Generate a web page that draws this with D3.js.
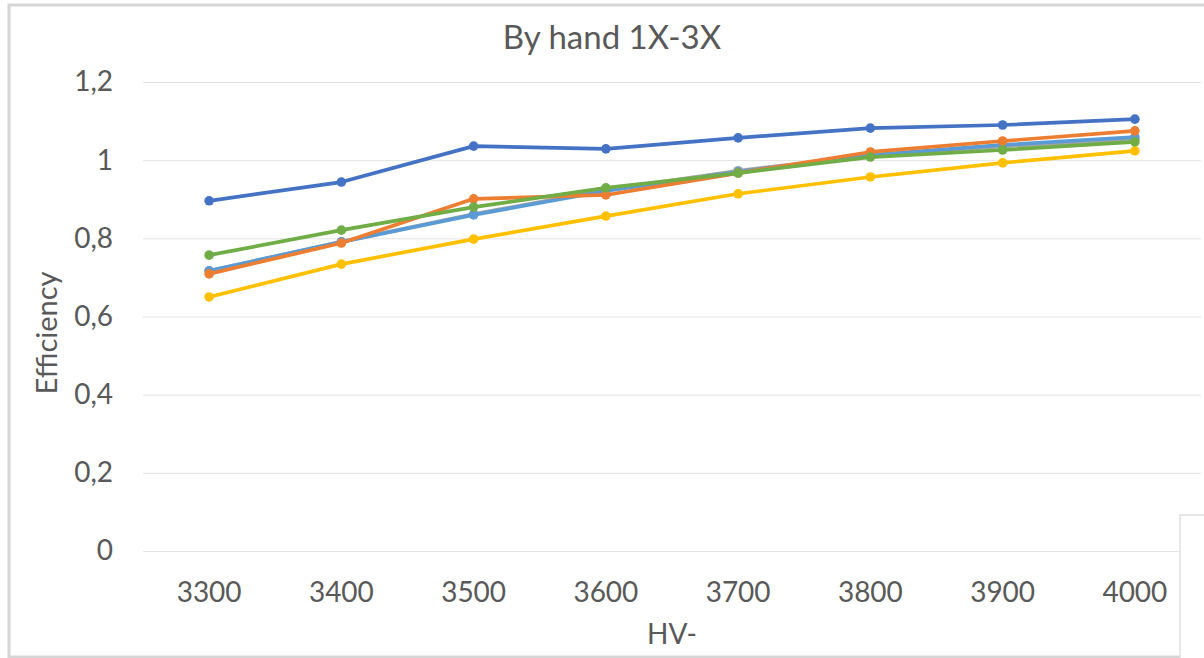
<!DOCTYPE html>
<html>
<head>
<meta charset="utf-8">
<script src="https://cdn.jsdelivr.net/npm/d3@7"></script>
<style>
  html, body { margin: 0; padding: 0; background: #fff; }
  svg { display: block; }
  text { font-family: Lato, "Open Sans", sans-serif; fill: #595959; }
</style>
</head>
<body>
<svg id="chart" width="1204" height="658"></svg>
<script>
// HV- setpoints on the x axis
const categories = ["3300", "3400", "3500", "3600", "3700", "3800", "3900", "4000"];

// Efficiency per run (drawn in this order, last on top)
const seriesBlue      = [0.896, 0.944, 1.036, 1.029, 1.057, 1.082, 1.090, 1.105];
const seriesGray      = [0.717, 0.791, 0.862, 0.924, 0.973, 1.012, 1.035, 1.053];
const seriesLightBlue = [0.717, 0.791, 0.860, 0.921, 0.970, 1.013, 1.039, 1.059];
const seriesOrange    = [0.709, 0.788, 0.901, 0.911, 0.967, 1.021, 1.049, 1.075];
const seriesYellow    = [0.650, 0.734, 0.798, 0.857, 0.914, 0.957, 0.993, 1.024];
const seriesGreen     = [0.757, 0.821, 0.880, 0.929, 0.967, 1.008, 1.026, 1.047];

const yTicks = [0, 0.2, 0.4, 0.6, 0.8, 1, 1.2];

const series = [
  { values: seriesBlue,      color: "#4472C4" },
  { values: seriesGray,      color: "#A5A5A5" },
  { values: seriesLightBlue, color: "#5B9BD5" },
  { values: seriesOrange,    color: "#ED7D31" },
  { values: seriesYellow,    color: "#FFC000" },
  { values: seriesGreen,     color: "#70AD47" }
];

const svg = d3.select("#chart");

// Chart frame
svg.append("rect")
  .attr("x", 9).attr("y", 5).attr("width", 1220).attr("height", 652)
  .attr("fill", "#fff").attr("stroke", "#d6d6d6").attr("stroke-width", 3);

const plot = { left: 143, right: 1201, top: 82, bottom: 551 };

const x = d3.scaleBand().domain(categories).range([plot.left, plot.right]).paddingInner(0).paddingOuter(0);
const y = d3.scaleLinear().domain([0, 1.2]).range([plot.bottom, plot.top]);
const fmt = v => d3.format(".1f")(v).replace(".", ",").replace(/,0$/, "");

// Horizontal gridlines and y tick labels
const yAxis = d3.axisLeft(y).tickValues(yTicks).tickFormat(fmt)
  .tickSize(-(plot.right - plot.left)).tickPadding(30);
const gy = svg.append("g").attr("transform", `translate(${plot.left},0)`).call(yAxis);
gy.select(".domain").remove();
gy.selectAll(".tick line").attr("stroke", "#e3e3e3").attr("stroke-width", 1);
gy.selectAll(".tick text").attr("font-size", 28).style("fill", "#595959");

// Category labels
const xAxis = d3.axisBottom(x).tickSize(0).tickPadding(31);
const gx = svg.append("g").attr("transform", `translate(0,${plot.bottom})`).call(xAxis);
gx.select(".domain").remove();
gx.selectAll(".tick text").attr("font-size", 28).style("fill", "#595959");

const cx = d => x(d) + x.bandwidth() / 2;
const line = d3.line().x((d, i) => cx(categories[i])).y(d => y(d));

const g = svg.append("g");
series.forEach(s => {
  g.append("path")
    .datum(s.values)
    .attr("d", line)
    .attr("fill", "none")
    .attr("stroke", s.color)
    .attr("stroke-width", 3.7)
    .attr("stroke-linejoin", "round")
    .attr("stroke-linecap", "round");
  g.selectAll(null)
    .data(s.values)
    .enter().append("circle")
    .attr("cx", (d, i) => cx(categories[i]))
    .attr("cy", d => y(d))
    .attr("r", 4.8)
    .attr("fill", s.color);
});

// Title and axis titles
svg.append("text")
  .attr("x", 612).attr("y", 49)
  .attr("text-anchor", "middle")
  .attr("font-size", 33)
  .text("By hand 1X-3X");

svg.append("text")
  .attr("transform", "translate(57,333) rotate(-90)")
  .attr("text-anchor", "middle")
  .attr("font-size", 29)
  .text("Efficiency");

svg.append("text")
  .attr("x", 672).attr("y", 644)
  .attr("text-anchor", "middle")
  .attr("font-size", 28)
  .text("HV-");

// Overlapping panel corner at lower right
svg.append("rect")
  .attr("x", 1180).attr("y", 515).attr("width", 40).attr("height", 160)
  .attr("fill", "#fff").attr("stroke", "#e0e0e0").attr("stroke-width", 1.5);
</script>
</body>
</html>
